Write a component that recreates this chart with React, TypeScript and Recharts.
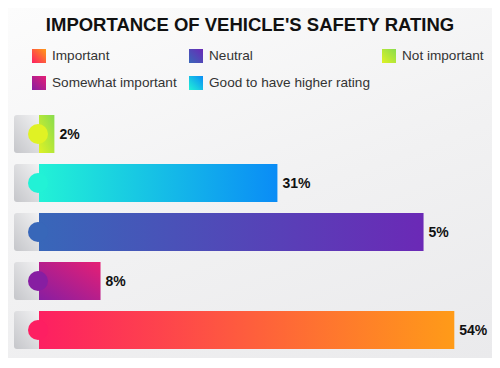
import React from 'react'
import { BarChart, Bar, XAxis, YAxis, LabelList } from 'recharts'

// bars listed top to bottom
const categories = ['Not important', 'Good to have higher rating', 'Neutral', 'Somewhat important', 'Important']
// drawn bar lengths as seen in the picture (the neutral bar is drawn much longer than its 5% label)
const barValues = [2, 31, 50, 8, 54]
const valueLabels = ['2%', '31%', '5%', '8%', '54%']
const legendOrder = ['Important', 'Neutral', 'Not important', 'Somewhat important', 'Good to have higher rating']

const palette: Record<string, { from: string; to: string; diag: boolean }> = {
  'Important': { from: '#fd1f62', to: '#ff9b18', diag: false },
  'Neutral': { from: '#3867b9', to: '#6b29b6', diag: false },
  'Not important': { from: '#e0f224', to: '#88dc4e', diag: true },
  'Somewhat important': { from: '#871ea2', to: '#e61f74', diag: true },
  'Good to have higher rating': { from: '#22f2d6', to: '#0a8cf6', diag: false },
}

const data = categories.map((name, i) => ({ name, value: barValues[i], label: valueLabels[i] }))

const font = '"Liberation Sans", Arial, sans-serif'

function BarShape(props: any) {
  const { x, y, width, height, index, payload } = props
  const c = palette[payload.name]
  const cy = y + height / 2
  const gid = `bar-grad-${index}`
  const tid = `tab-grad-${index}`
  return (
    <g>
      <defs>
        <linearGradient id={gid} x1="0" y1={c.diag ? '1' : '0'} x2="1" y2="0">
          <stop offset="0%" stopColor={c.from} />
          <stop offset="100%" stopColor={c.to} />
        </linearGradient>
        <linearGradient id={tid} x1="1" y1="0" x2="0" y2="1">
          <stop offset="0%" stopColor="#f4f4f5" />
          <stop offset="100%" stopColor="#c5c6ca" />
        </linearGradient>
      </defs>
      <rect x={x - 25} y={y} width={28} height={height} rx={3} fill={`url(#${tid})`} />
      <rect x={x} y={y} width={width} height={height} fill={`url(#${gid})`} />
      <circle cx={x - 1} cy={cy} r={10} fill={c.from} />
    </g>
  )
}

export default function App() {
  return (
    <div
      style={{
        position: 'relative',
        width: 484,
        height: 350,
        background: 'linear-gradient(160deg, #fcfcfc 0%, #f1f1f2 55%, #eaeaec 100%)',
        fontFamily: font,
      }}
    >
      <div
        style={{
          position: 'absolute',
          top: 7,
          left: 0,
          width: 484,
          lineHeight: '20px',
          textAlign: 'center',
          fontSize: 18.5,
          fontWeight: 700,
          color: '#111',
        }}
      >
        IMPORTANCE OF VEHICLE'S SAFETY RATING
      </div>
      <div
        style={{
          position: 'absolute',
          top: 41,
          left: 24,
          display: 'grid',
          gridTemplateColumns: '157px 193px auto',
          rowGap: 13,
        }}
      >
        {legendOrder.map((name) => (
          <div key={name} style={{ display: 'flex', alignItems: 'center', height: 14 }}>
            <span
              style={{
                width: 14,
                height: 14,
                marginRight: 6,
                background: `linear-gradient(45deg, ${palette[name].from}, ${palette[name].to})`,
              }}
            />
            <span style={{ fontSize: 13.6, lineHeight: '14px', color: '#333', whiteSpace: 'nowrap' }}>{name}</span>
          </div>
        ))}
      </div>
      <div style={{ position: 'absolute', top: 0, left: 0 }}>
        <BarChart
          width={484}
          height={350}
          data={data}
          layout="vertical"
          margin={{ top: 101, right: 30, bottom: 4, left: 31 }}
        >
          <XAxis type="number" domain={[0, 55]} hide />
          <YAxis type="category" dataKey="name" hide />
          <Bar dataKey="value" barSize={38} shape={BarShape} isAnimationActive={false}>
            <LabelList
              dataKey="label"
              position="right"
              offset={5}
              style={{ fontFamily: font, fontSize: 14, fontWeight: 700, fill: '#111' }}
            />
          </Bar>
        </BarChart>
      </div>
    </div>
  )
}
